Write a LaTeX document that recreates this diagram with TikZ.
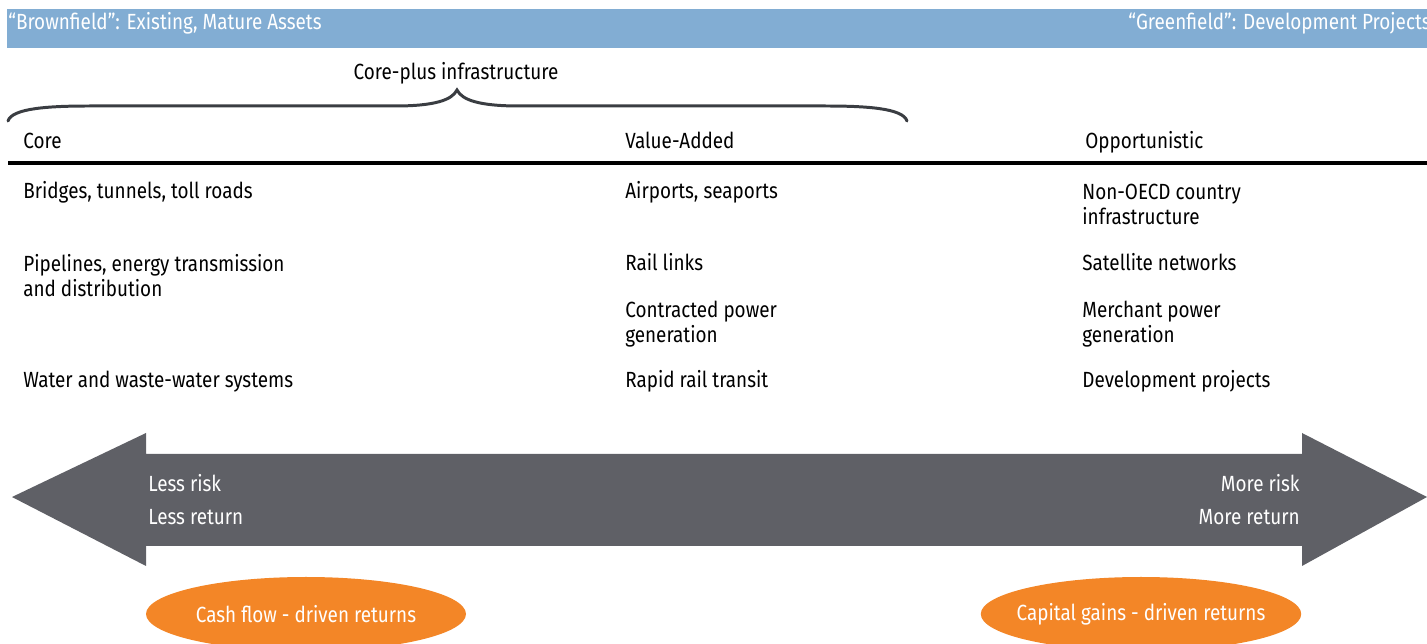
\documentclass[tikz,border=0pt]{standalone}
\usepackage{fontspec}
\setmainfont{Fira Sans}[FakeStretch=0.86]
\usetikzlibrary{positioning,shapes.geometric}

\definecolor{barblue}{HTML}{82ADD3}
\definecolor{arrowgrey}{HTML}{5F6066}
\definecolor{bracegrey}{HTML}{3A3D42}
\definecolor{ovalorange}{HTML}{F38627}

\tikzset{
  item/.style={anchor=base west, inner sep=0pt, align=left, font=\fontsize{12.5}{14.7}\selectfont},
  head/.style={item},
  bartext/.style={inner sep=0pt, text=white, font=\fontsize{12.5}{15}\selectfont},
  risktext/.style={inner sep=0pt, text=white, font=\fontsize{12.5}{15}\selectfont},
  oval/.style={ellipse, fill=ovalorange, text=white, minimum width=320*0.02cm, minimum height=74*0.02cm,
    inner xsep=-0.22cm, inner ysep=0pt, font=\fontsize{12.5}{15}\selectfont}
}

\begin{document}
\begin{tikzpicture}[x=0.02cm,y=-0.02cm]
  \useasboundingbox (0,0) rectangle (1427,644);
  \clip (0,0) rectangle (1427,644);

  % top bar
  \fill[barblue] (7,9) rectangle (1427,48);
  \node[bartext, anchor=base west] (brown) at (8,30) {“Brownfield”: Existing, Mature Assets};
  \node[bartext, anchor=base east] (green) at (1431,30) {“Greenfield”: Development Projects};

  % brace
  \node[inner sep=0pt, anchor=base, font=\fontsize{12.5}{15}\selectfont] (coreplus) at (456,80) {Core-plus infrastructure};
  \draw[bracegrey, line width=1.7pt, line cap=round]
    (8,121) .. controls (12,108) and (50,106) .. (90,106) -- (395,106)
    .. controls (435,106) and (452,100) .. (457,90)
    .. controls (462,100) and (479,106) .. (519,106) -- (825,106)
    .. controls (865,106) and (903,108) .. (907,121);

  % headers
  \node[head] (core) at (23,149) {Core};
  \node[head] (value) at (625,149) {Value-Added};
  \node[head] (opp) at (1085,149) {Opportunistic};
  \draw[black, line width=2.4pt] (8,163) -- (1427,163);

  % rows (two-line nodes sit on the baseline of their last line)
  \node[item] (c1) at (23,199) {Bridges, tunnels, toll roads};
  \node[item] (c2) at (23,297) {Pipelines, energy transmission\\and distribution};
  \node[item] (c3) at (23,388) {Water and waste-water systems};
  \node[item] (v1) at (625,199) {Airports, seaports};
  \node[item] (v2) at (625,271) {Rail links};
  \node[item] (v3) at (625,343) {Contracted power\\generation};
  \node[item] (v4) at (625,388) {Rapid rail transit};
  \node[item] (o1) at (1082,225) {Non-OECD country\\infrastructure};
  \node[item] (o2) at (1082,271) {Satellite networks};
  \node[item] (o3) at (1082,343) {Merchant power\\generation};
  \node[item] (o4) at (1082,388) {Development projects};

  % double arrow
  \fill[arrowgrey] (12,497) -- (146,433) -- (146,454) -- (1302,454) -- (1302,433)
    -- (1427,497) -- (1302,566) -- (1302,546) -- (146,546) -- (146,566) -- cycle;
  \node[risktext, anchor=base west] (lrisk) at (148,492) {Less risk};
  \node[risktext, anchor=base west] (lret) at (148,525) {Less return};
  \node[risktext, anchor=base east] (mrisk) at (1300,492) {More risk};
  \node[risktext, anchor=base east] (mret) at (1300,525) {More return};

  % ovals
  \node[oval] (cash) at (306,614) {Cash flow - driven returns};
  \node[oval] (gains) at (1141,614) {Capital gains - driven returns};
\end{tikzpicture}
\end{document}
